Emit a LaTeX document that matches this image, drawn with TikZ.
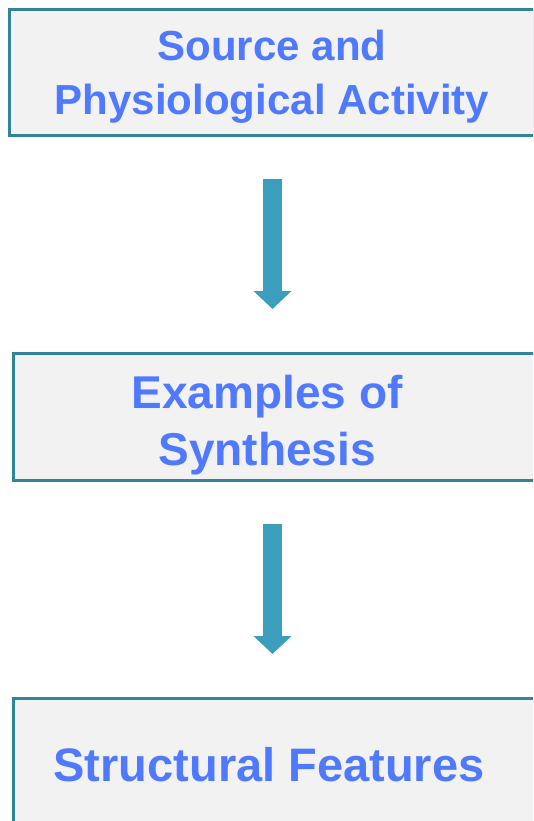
\documentclass[tikz,border=0pt]{standalone}
\usepackage{fontspec}
\setmainfont{Liberation Sans}
\usepackage{tikz}
\usetikzlibrary{arrows.meta,positioning,calc}
\definecolor{boxedge}{RGB}{49,133,155}
\definecolor{boxfill}{RGB}{242,242,242}
\definecolor{titleblue}{RGB}{79,121,255}
\definecolor{arrowteal}{RGB}{58,158,188}
\tikzset{
  stagebox/.style={rectangle,draw=boxedge,fill=boxfill,line width=3pt,inner sep=0pt},
  stagetitle/.style={align=center,text=titleblue,inner sep=0pt},
  flowarrow/.style={-{Triangle[length=18pt,width=37pt]},line width=19pt,draw=arrowteal}
}

\begin{document}
\begin{tikzpicture}[x=1pt,y=-1pt,node distance=215pt]
  \clip (0,0) rectangle (533,821);
  \fill[white] (0,0) rectangle (533,821);
  \node[stagebox,minimum width=525pt,minimum height=126pt] (src) at (272,72.5) {};
  \node[stagebox,below=of src,xshift=3pt,minimum width=523pt,minimum height=127pt] (synth) {};
  \node[stagebox,below=of synth,minimum width=523pt,minimum height=132pt] (struct) {};
  % titles
  \node[stagetitle,font=\fontsize{42}{54}\selectfont\bfseries] (srctitle)
    at ($(src.center)+(0,4)$) {Source and\\Physiological Activity};
  \node[stagetitle,font=\fontsize{46}{57}\selectfont\bfseries] (synthtitle)
    at ($(synth.center)+(-8,8)$) {Examples of\\Synthesis};
  \node[stagetitle,font=\fontsize{47}{57}\selectfont\bfseries] (structtitle)
    at ($(struct.center)+(-6,0)$) {Structural Features};
  \coordinate (a1top) at ($(src.south)+(0.5,42)$);
  \coordinate (a1tip) at ($(src.south |- synth.north)+(0.5,-43)$);
  \coordinate (a2top) at ($(src.south |- synth.south)+(0.5,42)$);
  \coordinate (a2tip) at ($(src.south |- struct.north)+(0.5,-43)$);
  \draw[flowarrow] (a1top)--(a1tip);
  \draw[flowarrow] (a2top)--(a2tip);
\end{tikzpicture}
\end{document}
